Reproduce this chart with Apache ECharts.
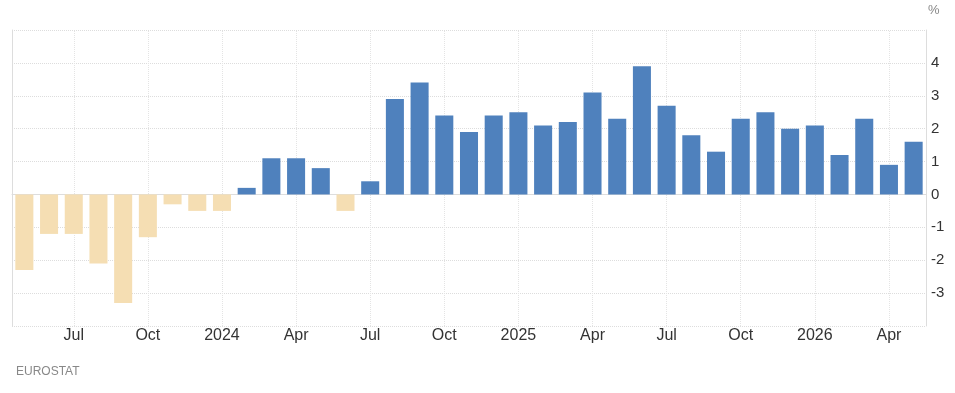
<!DOCTYPE html>
<html lang="en">
    <head>
        <meta charset="UTF-8" />
        <title>Eurostat</title>
        <script src="https://cdn.jsdelivr.net/npm/echarts@6.0.0/dist/echarts.min.js"></script>
        <style>
            body,
            html {
                margin: 0;
                padding: 0;
                width: 100%;
                height: 100%;
                overflow: hidden;
                background-color: #fff;
            }
            #main {
                width: 955px;
                height: 393px;
            }
        </style>
    </head>
    <body>
        <div id="main"></div>
        <script>
            // monthly periods, May 2023 .. May 2026
            const months = [
                "2023-05", "2023-06", "2023-07", "2023-08", "2023-09", "2023-10", "2023-11", "2023-12",
                "2024-01", "2024-02", "2024-03", "2024-04", "2024-05", "2024-06", "2024-07", "2024-08",
                "2024-09", "2024-10", "2024-11", "2024-12", "2025-01", "2025-02", "2025-03", "2025-04",
                "2025-05", "2025-06", "2025-07", "2025-08", "2025-09", "2025-10", "2025-11", "2025-12",
                "2026-01", "2026-02", "2026-03", "2026-04", "2026-05",
            ]
            const values = [
                -2.3, -1.2, -1.2, -2.1, -3.3, -1.3, -0.3, -0.5,
                -0.5, 0.2, 1.1, 1.1, 0.8, -0.5, 0.4, 2.9,
                3.4, 2.4, 1.9, 2.4, 2.5, 2.1, 2.2, 3.1,
                2.3, 3.9, 2.7, 1.8, 1.3, 2.3, 2.5, 2.0,
                2.1, 1.2, 2.3, 0.9, 1.6,
            ]
            // tick labels for quarter months (Jan shows the year)
            const quarterLabels = { "01": null, "04": "Apr", "07": "Jul", "10": "Oct" }
            const yTicks = [-3, -2, -1, 0, 1, 2, 3, 4]

            const isQuarter = (i) => months[i].slice(5) in quarterLabels
            const fmtMonth = (m) => {
                const mm = m.slice(5)
                return quarterLabels[mm] === null ? m.slice(0, 4) : quarterLabels[mm] || ""
            }
            const quarterMonths = months.filter((m, i) => isQuarter(i))

            const chart = echarts.init(document.getElementById("main"))
            const font = "'Liberation Sans', Arial, sans-serif"

            chart.setOption({
                animation: false,
                grid: { left: 12, right: 29, top: 30, bottom: 67 },
                graphic: [
                    {
                        type: "text",
                        left: 928,
                        top: 4,
                        style: { text: "%", fill: "#888", font: "13px " + font },
                    },
                    {
                        type: "text",
                        left: 16,
                        top: 366,
                        style: { text: "EUROSTAT", fill: "#888", font: "12px " + font },
                    },
                ],
                xAxis: {
                    type: "category",
                    data: months,
                    axisLine: { lineStyle: { color: "#ddd" } },
                    axisTick: { show: false },
                    axisLabel: {
                        interval: (i) => isQuarter(i),
                        formatter: fmtMonth,
                        color: "#333",
                        fontSize: 16,
                        fontFamily: font,
                        margin: 2,
                    },
                    splitLine: { show: false },
                },
                yAxis: [
                    {
                        type: "value",
                        position: "right",
                        min: -4,
                        max: 5,
                        interval: 1,
                        axisLine: { show: true, lineStyle: { color: "#ddd" } },
                        axisTick: { show: false },
                        axisLabel: {
                            color: "#333",
                            fontSize: 15,
                            fontFamily: font,
                            margin: 5,
                            formatter: (v) => (yTicks.includes(v) ? String(v) : ""),
                        },
                        splitLine: { lineStyle: { color: "#ddd", type: "dotted" } },
                    },
                    {
                        type: "value",
                        position: "left",
                        min: -4,
                        max: 5,
                        interval: 1,
                        axisLine: { show: true, lineStyle: { color: "#ddd" } },
                        axisTick: { show: false },
                        axisLabel: { show: false },
                        splitLine: { show: false },
                    },
                ],
                series: [
                    {
                        // vertical grid lines through the quarter-month bars
                        type: "line",
                        data: [],
                        z: 1,
                        silent: true,
                        markLine: {
                            z: 1,
                            symbol: "none",
                            silent: true,
                            label: { show: false },
                            lineStyle: { color: "#e4e4e4", type: "dotted", width: 1 },
                            data: quarterMonths.map((m) => ({ xAxis: m })),
                        },
                    },
                    {
                        type: "bar",
                        data: values,
                        z: 3,
                        barCategoryGap: "27%",
                        itemStyle: {
                            color: (p) => (p.value < 0 ? "#f5deb3" : "#4f81bd"),
                        },
                    },
                ],
            })
        </script>
    </body>
</html>
